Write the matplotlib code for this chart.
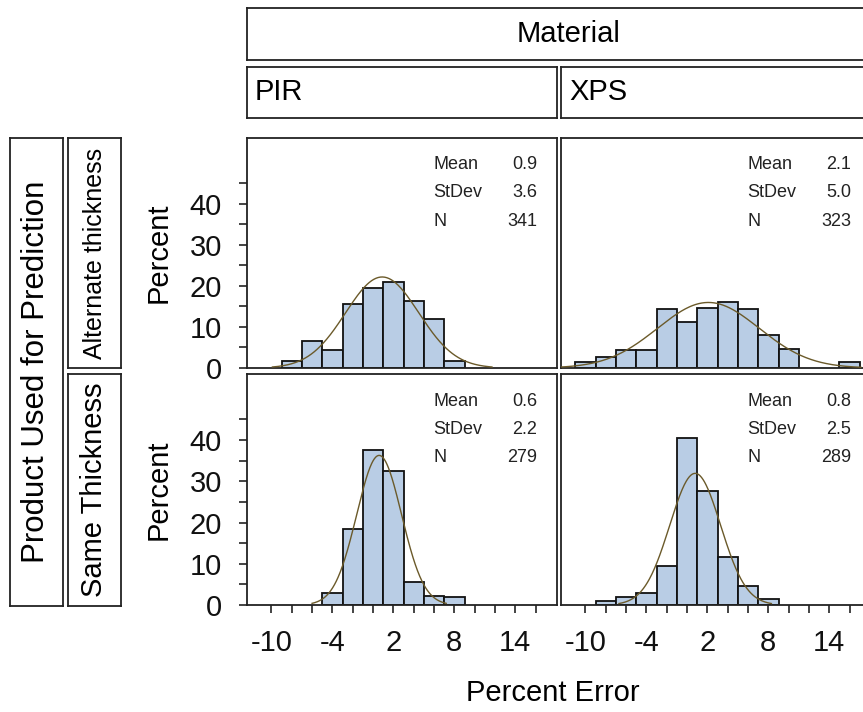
import numpy as np
import matplotlib
matplotlib.use('Agg')
import matplotlib.pyplot as plt
from matplotlib.ticker import FixedLocator

plt.rcParams['font.family'] = ['Liberation Sans', 'DejaVu Sans']
plt.rcParams['axes.unicode_minus'] = False

# panel data: bin centers (percent error) and bar heights (percent)
materials = ['PIR', 'XPS']
products = ['Alternate thickness', 'Same Thickness']

pir_alt_bins = [-8, -6, -4, -2, 0, 2, 4, 6, 8]
pir_alt_pct = [1.6, 6.5, 4.3, 15.7, 19.4, 21.0, 16.4, 12.0, 1.6]
xps_alt_bins = [-10, -8, -6, -4, -2, 0, 2, 4, 6, 8, 10, 16]
xps_alt_pct = [1.4, 2.8, 4.3, 4.3, 14.3, 11.3, 14.5, 16.1, 14.3, 8.1, 4.7, 1.4]
pir_same_bins = [-4, -2, 0, 2, 4, 6, 8]
pir_same_pct = [3.0, 18.4, 37.5, 32.5, 5.5, 2.3, 2.0]
xps_same_bins = [-8, -6, -4, -2, 0, 2, 4, 6, 8]
xps_same_pct = [1.0, 2.0, 3.0, 9.4, 40.6, 27.6, 11.7, 4.6, 1.4]

means = [[0.9, 2.1], [0.6, 0.8]]
stdevs = [[3.6, 5.0], [2.2, 2.5]]
counts = [[341, 323], [279, 289]]

bins = [[pir_alt_bins, xps_alt_bins], [pir_same_bins, xps_same_bins]]
pcts = [[pir_alt_pct, xps_alt_pct], [pir_same_pct, xps_same_pct]]

bin_width = 2
major_x = [-10, -4, 2, 8, 14]
minor_x = [-8, -6, -2, 0, 4, 6, 10, 12, 16]

W, H = 863, 712
fig = plt.figure(figsize=(W / 100, H / 100), dpi=100)


def px_axes(x0, y0, x1, y1):
    return fig.add_axes([x0 / W, 1 - y1 / H, (x1 - x0) / W, (y1 - y0) / H])


def strip(x0, y0, x1, y1, text, size, rotate=False, left=False):
    ax = px_axes(x0, y0, x1, y1)
    ax.set_xticks([])
    ax.set_yticks([])
    for s in ax.spines.values():
        s.set_linewidth(1.3)
        s.set_color('#222222')
    if rotate:
        ax.text(0.5, 0.5, text, rotation=90, ha='center', va='center',
                fontsize=size, transform=ax.transAxes)
    elif left:
        ax.text(8 / (x1 - x0), 0.5, text, ha='left', va='center',
                fontsize=size, transform=ax.transAxes)
    else:
        ax.text(0.5, 0.5, text, ha='center', va='center',
                fontsize=size, transform=ax.transAxes)
    return ax


# column headers
strip(247, 8, 891, 60, 'Material', 21)
strip(247, 67, 557, 118, materials[0], 21, left=True)
strip(561, 67, 872, 118, materials[1], 21, left=True)

# row headers
strip(10, 138, 63, 606, 'Product Used for Prediction', 22.5, rotate=True)
strip(68, 138, 121, 368, products[0], 18, rotate=True)
strip(68, 374, 121, 606, products[1], 21, rotate=True)

col_x = [(247, 557), (561, 871)]
row_y = [(138, 368), (374, 605)]

for r in range(2):
    for c in range(2):
        ax = px_axes(col_x[c][0], row_y[r][0], col_x[c][1], row_y[r][1])
        ax.bar(bins[r][c], pcts[r][c], width=bin_width, color='#B9CDE5',
               edgecolor='#111111', linewidth=1.3, zorder=2)
        m, sd = means[r][c], stdevs[r][c]
        xs = np.linspace(m - 3 * sd, m + 3 * sd, 300)
        ys = 100 * bin_width * np.exp(-0.5 * ((xs - m) / sd) ** 2) / (sd * np.sqrt(2 * np.pi))
        ax.plot(xs, ys, color='#6B5A2A', linewidth=1.0, zorder=3)
        ax.set_xlim(-12.4, 18.1)
        ax.set_ylim(0, 56)
        for s in ax.spines.values():
            s.set_linewidth(1.3)
            s.set_color('#222222')

        ax.xaxis.set_major_locator(FixedLocator(major_x))
        ax.xaxis.set_minor_locator(FixedLocator(minor_x))
        ax.yaxis.set_major_locator(FixedLocator([0, 10, 20, 30, 40]))
        ax.yaxis.set_minor_locator(FixedLocator([5, 15, 25, 35, 45]))
        ax.tick_params(which='both', direction='out', length=6, width=1.1,
                       labelsize=21, colors='#111111')
        ax.tick_params(axis='x', pad=11)
        ax.tick_params(axis='y', pad=12)
        if r == 0:
            ax.tick_params(axis='x', which='both', bottom=False, labelbottom=False)
        if c == 1:
            ax.tick_params(axis='y', which='both', left=False, labelleft=False)
        else:
            ax.set_ylabel('Percent', fontsize=21, labelpad=12)

        rows = [('Mean', f'{m:.1f}'), ('StDev', f'{sd:.1f}'), ('N', f'{counts[r][c]}')]
        for k, (lab, val) in enumerate(rows):
            yy = 0.883 - k * 0.122
            ax.text(0.6, yy, lab, ha='left', va='center', fontsize=13,
                    transform=ax.transAxes, color='#222222')
            ax.text(0.937, yy, val, ha='right', va='center', fontsize=13,
                    transform=ax.transAxes, color='#222222')

fig.text(553 / W, 1 - 693 / H, 'Percent Error', ha='center', va='center', fontsize=21)

fig.savefig('out.png', dpi=100)
